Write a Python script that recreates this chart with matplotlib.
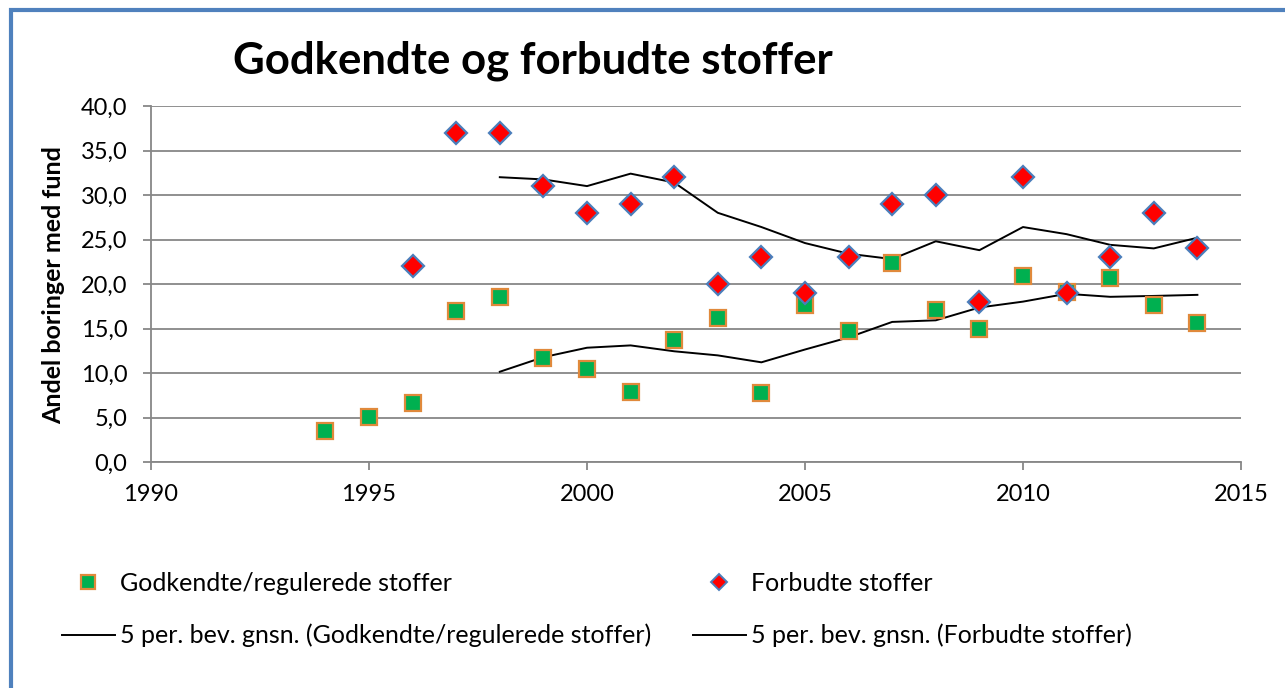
import numpy as np
import pandas as pd
import matplotlib
matplotlib.use("Agg")
import matplotlib.pyplot as plt
from matplotlib.lines import Line2D
from matplotlib.patches import Rectangle
from matplotlib.ticker import FuncFormatter, MultipleLocator

plt.rcParams["font.family"] = ["Lato", "DejaVu Sans"]

# ── Data ────────────────────────────────────────────────────────────────────
years = list(range(1994, 2015))
godkendte = [3.5, 5.1, 6.6, 17.0, 18.5, 11.7, 10.4, 7.9, 13.7, 16.2, 7.8,
             17.6, 14.7, 22.4, 17.1, 15.0, 20.9, 19.1, 20.7, 17.6, 15.6]
forbudte = [np.nan, np.nan, 22.0, 37.0, 37.0, 31.0, 28.0, 29.0, 32.0, 20.0, 23.0,
            19.0, 23.0, 29.0, 30.0, 18.0, 32.0, 19.0, 23.0, 28.0, 24.0]

TITLE = "Godkendte og forbudte stoffer"
YLABEL = "Andel boringer med fund"
LBL_G = "Godkendte/regulerede stoffer"
LBL_F = "Forbudte stoffer"
LBL_MA_G = "5 per. bev. gnsn. (Godkendte/regulerede stoffer)"
LBL_MA_F = "5 per. bev. gnsn. (Forbudte stoffer)"
PERIOD = 5

# 5-period moving average, as the spreadsheet trendline does it (blanks skipped)
df = pd.DataFrame({"year": years, "g": godkendte, "f": forbudte})
ma_g = df["g"].rolling(PERIOD, min_periods=1).mean()[PERIOD - 1:]
ma_f = df["f"].rolling(PERIOD, min_periods=1).mean()[PERIOD - 1:]
ma_years = df["year"][PERIOD - 1:]

# ── Figure ──────────────────────────────────────────────────────────────────
W, H = 1285, 688
fig = plt.figure(figsize=(W / 100, H / 100), dpi=100)
ax = fig.add_axes([151 / W, 1 - 462 / H, (1241 - 151) / W, (462 - 106) / H])

GRID = "#878787"
ax.plot(ma_years, ma_g, color="black", lw=1.4, zorder=2)
ax.plot(ma_years, ma_f, color="black", lw=1.4, zorder=2)
ax.plot(df["year"], df["g"], ls="none", marker="s", ms=11, mfc="#00B050",
        mec="#E0893B", mew=1.6, zorder=3)
ax.plot(df["year"], df["f"], ls="none", marker="D", ms=11.5, mfc="#FF0000",
        mec="#4A7EBB", mew=1.6, zorder=4)

ax.set_xlim(1990, 2015)
ax.set_ylim(0, 40)
ax.xaxis.set_major_locator(MultipleLocator(5))
ax.yaxis.set_major_locator(MultipleLocator(5))
ax.yaxis.set_major_formatter(FuncFormatter(lambda v, p: f"{v:.1f}".replace(".", ",")))
ax.grid(axis="y", color=GRID, lw=1.3)
ax.set_axisbelow(True)
for s in ("top", "right"):
    ax.spines[s].set_visible(False)
for s in ("left", "bottom"):
    ax.spines[s].set_color(GRID)
    ax.spines[s].set_linewidth(1.3)
ax.tick_params(axis="both", direction="out", length=6, width=1.3, color=GRID,
               labelsize=17, labelcolor="black")
ax.tick_params(axis="y", pad=11)
ax.tick_params(axis="x", pad=10)

fig.text(54 / W, 1 - 285 / H, YLABEL, rotation=90, ha="center", va="center",
         fontsize=18, fontweight="bold")
fig.text(533 / W, 1 - 61 / H, TITLE, ha="center", va="center",
         fontsize=31.5, fontweight="bold")

# ── Legend: two columns placed by hand ──────────────────────────────────────
h_g = Line2D([], [], ls="none", marker="s", ms=10.5, mfc="#00B050", mec="#E0893B", mew=1.6)
h_f = Line2D([], [], ls="none", marker="D", ms=8.5, mfc="#FF0000", mec="#4A7EBB", mew=1.4)
h_ma = Line2D([], [], color="black", lw=1.4)
leg_kw = dict(loc="upper left", frameon=False, fontsize=18, borderpad=0,
              borderaxespad=0, handlelength=2.1, handletextpad=0.22,
              labelspacing=1.15)
fig.legend([h_g, h_ma], [LBL_G, LBL_MA_G], bbox_to_anchor=(62 / W, 1 - 572 / H), **leg_kw)
fig.legend([h_f, h_ma], [LBL_F, LBL_MA_F], bbox_to_anchor=(693 / W, 1 - 572 / H), **leg_kw)

# blue chart-area border (left and top edges visible, rest cropped)
fig.patches.append(Rectangle((11 / W, -0.2), 1.2, 1.2 - 10 / H, transform=fig.transFigure,
                             fill=False, ec="#4F81BD", lw=3, clip_on=False))

fig.savefig("out.png", dpi=100)
